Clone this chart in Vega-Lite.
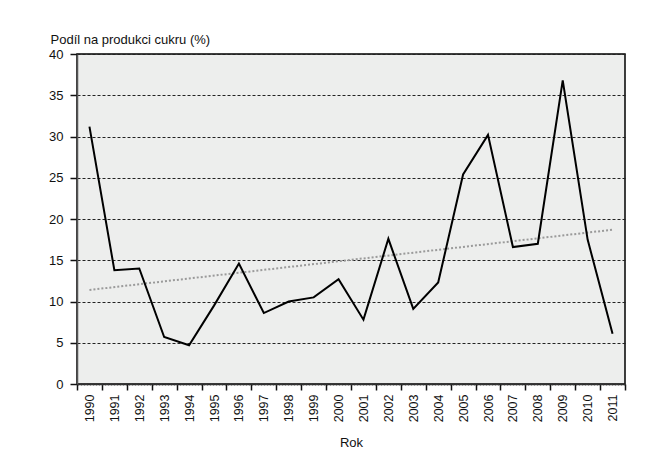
{
  "$schema": "https://vega.github.io/schema/vega-lite/v6.json",
  "autosize": {"type": "none"},
  "width": 548,
  "height": 330,
  "padding": {"left": 77, "top": 54, "right": 29, "bottom": 72},
  "background": "white",
  "config": {
    "font": "Liberation Sans, Arial, sans-serif",
    "view": {"fill": "#edeeed", "stroke": "#000000", "strokeWidth": 1.5},
    "axis": {
      "labelFont": "Liberation Sans, Arial, sans-serif",
      "titleFont": "Liberation Sans, Arial, sans-serif",
      "labelColor": "#111",
      "titleColor": "#111",
      "titleFontWeight": "normal",
      "tickColor": "#111",
      "domainColor": "#333"
    }
  },
  "datasets": {
    "share": [
      {"rok": "1990", "podil": 31.2},
      {"rok": "1991", "podil": 13.8},
      {"rok": "1992", "podil": 14.0},
      {"rok": "1993", "podil": 5.7},
      {"rok": "1994", "podil": 4.7},
      {"rok": "1995", "podil": 9.5},
      {"rok": "1996", "podil": 14.6},
      {"rok": "1997", "podil": 8.6},
      {"rok": "1998", "podil": 10.0},
      {"rok": "1999", "podil": 10.5},
      {"rok": "2000", "podil": 12.7},
      {"rok": "2001", "podil": 7.8},
      {"rok": "2002", "podil": 17.6},
      {"rok": "2003", "podil": 9.1},
      {"rok": "2004", "podil": 12.3},
      {"rok": "2005", "podil": 25.4},
      {"rok": "2006", "podil": 30.2},
      {"rok": "2007", "podil": 16.6},
      {"rok": "2008", "podil": 17.0},
      {"rok": "2009", "podil": 36.8},
      {"rok": "2010", "podil": 17.5},
      {"rok": "2011", "podil": 6.1}
    ],
    "trend": [
      {"rok": "1990", "podil": 11.4},
      {"rok": "2011", "podil": 18.7}
    ]
  },
  "layer": [
    {
      "data": {"name": "trend"},
      "mark": {"type": "line", "color": "#9a9a9a", "strokeWidth": 2, "strokeDash": [2, 2]},
      "encoding": {
        "x": {"field": "rok", "type": "ordinal"},
        "y": {"field": "podil", "type": "quantitative"}
      }
    },
    {
      "data": {"name": "share"},
      "mark": {"type": "line", "color": "#000000", "strokeWidth": 2},
      "encoding": {
        "x": {
          "field": "rok",
          "type": "ordinal",
          "scale": {"paddingInner": 0, "paddingOuter": 0},
          "axis": {
            "title": "Rok",
            "titleFontSize": 13,
            "titlePadding": 15,
            "labelAngle": -90,
            "labelFontSize": 12.5,
            "labelPadding": 4,
            "tickBand": "extent",
            "tickSize": 6,
            "tickWidth": 1.5,
            "domain": true,
            "domainColor": "#333",
            "domainWidth": 2,
            "domainDash": [2, 1]
          }
        },
        "y": {
          "field": "podil",
          "type": "quantitative",
          "scale": {"domain": [0, 40], "nice": false},
          "axis": {
            "title": "Podíl na produkci cukru (%)",
            "titleAngle": 0,
            "titleAlign": "left",
            "titleBaseline": "alphabetic",
            "titleX": -27,
            "titleY": -11,
            "titleFontSize": 13,
            "values": [0, 5, 10, 15, 20, 25, 30, 35, 40],
            "labelFontSize": 13,
            "labelPadding": 7,
            "tickSize": 7,
            "tickWidth": 1.5,
            "domainColor": "#555",
            "domainWidth": 1.5,
            "grid": true,
            "gridColor": "#222",
            "gridDash": [3, 2],
            "gridWidth": 1
          }
        }
      }
    }
  ]
}
